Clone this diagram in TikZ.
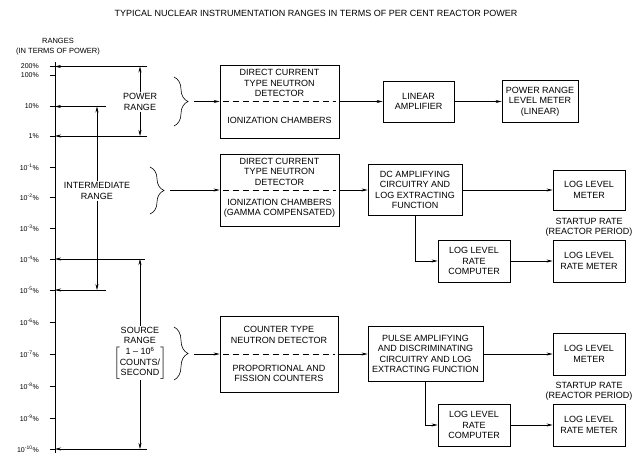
\documentclass[tikz,border=0pt]{standalone}
\usepackage{fontspec}
\setmainfont{Liberation Sans}
\usepackage{amsmath}
\usetikzlibrary{positioning,calc,arrows.meta,decorations.pathreplacing}

\begin{document}
\begin{tikzpicture}[x=1pt, y=-1pt,
    box/.style={draw, line width=0.8pt, align=center, inner sep=1pt, font=\fontsize{9}{10.5}\selectfont},
    lbl/.style={align=center, inner sep=1pt, font=\fontsize{9}{10.5}\selectfont},
    tick/.style={anchor=east, inner sep=0pt, font=\fontsize{7}{8}\selectfont},
    flow/.style={-{Stealth[length=6pt,width=3pt]}, line width=0.6pt},
    split/.style={dash pattern=on 6pt off 4pt, line width=0.6pt, shorten <=3pt, shorten >=3pt},
    curly/.style={decorate, decoration={brace, amplitude=14pt}, line width=0.6pt}]

    \useasboundingbox (0,0) rectangle (632,457);

    % Title and heading of the scale
    \node[lbl] (title) at (316,13)
        {TYPICAL NUCLEAR INSTRUMENTATION RANGES IN TERMS OF PER CENT REACTOR POWER};
    \node[lbl, font=\fontsize{7.5}{10}\selectfont] (head) at (58,47) {RANGES\\(IN TERMS OF POWER)};

    % Power axis with ticks
    \draw[line width=0.6pt] (55,62) -- (55,453);
    \foreach \y/\label [count=\i] in {66.5/200\%, 75/100\%, 106.5/10\%, 136/1\%,
        167/10\textsuperscript{-1}\%, 197.5/10\textsuperscript{-2}\%, 228/10\textsuperscript{-3}\%,
        259/10\textsuperscript{-4}\%, 290/10\textsuperscript{-5}\%, 322/10\textsuperscript{-6}\%,
        354/10\textsuperscript{-7}\%, 386.5/10\textsuperscript{-8}\%, 418/10\textsuperscript{-9}\%,
        449/10\textsuperscript{-10}\%} {
        \draw[line width=0.6pt] (50,\y) -- (55,\y);
        \node[tick] (tk\i) at (39,\y) {\label};
    }

    % Range limits, pointing back to the axis
    \coordinate (ax) at (55,0);
    \coordinate (e200) at (147,66.5);
    \coordinate (e10) at (106,106.5);
    \coordinate (e1) at (147,136);
    \coordinate (e4) at (145,259);
    \coordinate (e5) at (106,290);
    \coordinate (e10m) at (147,449);
    \foreach \e in {e200,e10,e1,e4,e5,e10m}
        \draw[flow] (\e) -- (\e -| ax);

    % Range labels
    \node[lbl] (pwr) at (140,102) {POWER\\RANGE};
    \draw[flow] (pwr.north) -- (pwr.north |- e200);
    \draw[flow] (pwr.south) -- (pwr.south |- e1);

    \node[lbl] (intr) at (97,191) {INTERMEDIATE\\RANGE};
    \draw[flow] (intr.north) -- (intr.north |- e10);
    \draw[flow] (intr.south) -- (intr.south |- e5);

    \node[lbl] (src) at (140,353) {SOURCE\\RANGE\\[2pt]
        $\left[\begin{tabular}{@{}c@{}}1 -- 10\textsuperscript{6}\\COUNTS/\\SECOND\end{tabular}\right]$};
    \draw[flow] (src.north) -- (src.north |- e4);
    \draw[flow] (src.south) -- (src.south |- e10m);

    % Detectors
    \node[box, minimum width=119pt, minimum height=73pt] (det1) at (279.5,101.5) {};
    \node[lbl] (det1u) at ($(det1.north)!0.5!(det1.center)$) {DIRECT CURRENT\\TYPE NEUTRON\\DETECTOR};
    \node[lbl] (det1l) at ($(det1.south)!0.5!(det1.center)$) {IONIZATION CHAMBERS};
    \draw[split] (det1.west) -- (det1.east);

    \node[box, minimum width=119pt, minimum height=72pt] (det2) at (279.5,190) {};
    \node[lbl] (det2u) at ($(det2.north)!0.5!(det2.center)$) {DIRECT CURRENT\\TYPE NEUTRON\\DETECTOR};
    \node[lbl] (det2l) at ($(det2.south)!0.5!(det2.center)$) {IONIZATION CHAMBERS\\(GAMMA COMPENSATED)};
    \draw[split] (det2.west) -- (det2.east);

    \node[box, minimum width=118pt, minimum height=76pt] (det3) at (279,354) {};
    \node[lbl] (det3u) at ($(det3.north)!0.5!(det3.center)$) {COUNTER TYPE\\NEUTRON DETECTOR};
    \node[lbl] (det3l) at ($(det3.south)!0.5!(det3.center)$) {PROPORTIONAL AND\\FISSION COUNTERS};
    \draw[split] (det3.west) -- (det3.east);

    % Braces into the detectors
    \draw[curly] (174,77) -- (174,126);
    \coordinate (pwrtip) at (194,101.5);
    \draw[flow] (pwrtip) -- (pwrtip -| det1.west);

    \draw[curly] (150,167) -- (150,214);
    \coordinate (inttip) at (170,190);
    \draw[flow] (inttip) -- (inttip -| det2.west);

    \draw[curly] (174,327) -- (174,380);
    \coordinate (srctip) at (194,354);
    \draw[flow] (srctip) -- (srctip -| det3.west);

    % Power range channel
    \node[box, minimum width=71pt, minimum height=41pt] (lin) at (418.5,101.5) {LINEAR\\AMPLIFIER};
    \node[box, minimum width=76pt, minimum height=42pt] (pmeter) at (540,101.5) {POWER RANGE\\LEVEL METER\\(LINEAR)};
    \draw[flow] (det1.east) -- (lin.west);
    \draw[flow] (lin.east) -- (pmeter.west);

    % Intermediate range channel
    \node[box, minimum width=94pt, minimum height=51pt] (dcamp) at (415,190)
        {DC AMPLIFYING\\CIRCUITRY AND\\LOG EXTRACTING\\FUNCTION};
    \node[box, minimum width=72pt, minimum height=40pt] (lmeter2) at (589,190) {LOG LEVEL\\METER};
    \node[box, minimum width=72pt, minimum height=42pt] (rcomp2) at (474,261) {LOG LEVEL\\RATE\\COMPUTER};
    \node[box, minimum width=72pt, minimum height=42pt] (rmeter2) at (589,261) {LOG LEVEL\\RATE METER};
    \node[lbl, above=2pt of rmeter2] (rate2) {STARTUP RATE\\(REACTOR PERIOD)};
    \draw[flow] (det2.east) -- (dcamp.west);
    \draw[flow] (dcamp.east) -- (lmeter2.west);
    \draw[flow] (dcamp.south) |- (rcomp2.west);
    \draw[flow] (rcomp2.east) -- (rmeter2.west);

    % Source range channel
    \node[box, minimum width=115pt, minimum height=55pt] (pulse) at (425.5,354)
        {PULSE AMPLIFYING\\AND DISCRIMINATING\\CIRCUITRY AND LOG\\EXTRACTING FUNCTION};
    \node[box, minimum width=72pt, minimum height=42pt] (lmeter3) at (589,354) {LOG LEVEL\\METER};
    \node[box, minimum width=72pt, minimum height=42pt] (rcomp3) at (474,425) {LOG LEVEL\\RATE\\COMPUTER};
    \node[box, minimum width=72pt, minimum height=42pt] (rmeter3) at (589,425) {LOG LEVEL\\RATE METER};
    \node[lbl, above=2pt of rmeter3] (rate3) {STARTUP RATE\\(REACTOR PERIOD)};
    \draw[flow] (det3.east) -- (pulse.west);
    \draw[flow] (pulse.east) -- (lmeter3.west);
    \draw[flow] (pulse.south) |- (rcomp3.west);
    \draw[flow] (rcomp3.east) -- (rmeter3.west);

\end{tikzpicture}
\end{document}
